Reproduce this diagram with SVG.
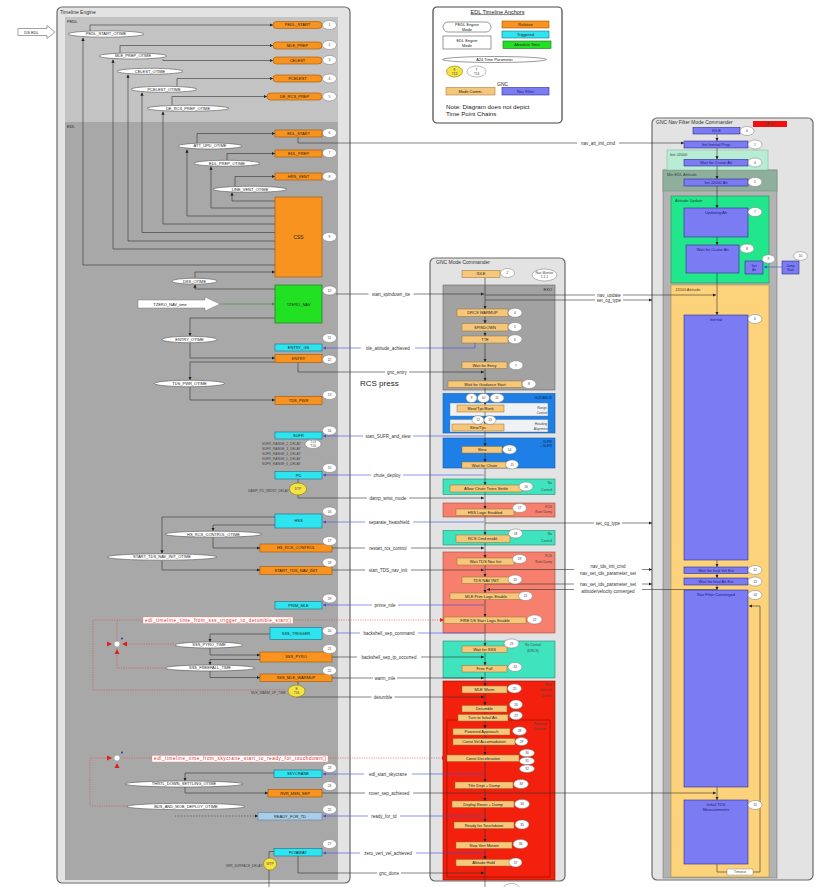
<svg xmlns="http://www.w3.org/2000/svg" width="816" height="887" viewBox="0 0 816 887">
<defs>
<style>
text{font-family:"Liberation Sans",Arial,sans-serif;fill:#222}
.pn{fill:#e3e3e3;stroke:#6a6a6a;stroke-width:1.2}
.ti{font-size:5px;fill:#333}
.t{font-size:4.8px}
.s{font-size:4px}
.xs{font-size:3.3px;fill:#444}
.lbl{font-size:4.5px;fill:#333}
.o{fill:#f7931e;stroke:#a35400;stroke-width:.6}
.c{fill:#2ee4ef;stroke:#1b6e88;stroke-width:.6}
.g{fill:#22e022;stroke:#1a6a1a;stroke-width:.6}
.e{fill:#fff;stroke:#555;stroke-width:.6}
.ci{fill:#fff;stroke:#777;stroke-width:.5}
.y{fill:#f4e340;stroke:#8a7a00;stroke-width:.6}
.m{fill:#f6c77a;stroke:#96702e;stroke-width:.5}
.n{fill:#7b7bf3;stroke:#2e2e8c;stroke-width:.6}
.nt{fill:#1c1c7a}
.k{fill:none;stroke:#333;stroke-width:.6}
.b{fill:none;stroke:#3d4ee0;stroke-width:.6}
.r{fill:none;stroke:#e04848;stroke-width:.6;stroke-dasharray:1.2 1.2}
.wb{fill:#fff}
.rt{font-size:4.6px;fill:#e02020}
</style>
<marker id="ak" viewBox="0 0 6 6" refX="6" refY="3" markerUnits="userSpaceOnUse" markerWidth="3.2" markerHeight="3.2" orient="auto"><path d="M0,0L6,3L0,6z" fill="#222"/></marker>
<marker id="ab" viewBox="0 0 6 6" refX="6" refY="3" markerUnits="userSpaceOnUse" markerWidth="3.2" markerHeight="3.2" orient="auto"><path d="M0,0L6,3L0,6z" fill="#3d4ee0"/></marker>
<marker id="ar" viewBox="0 0 6 6" refX="6" refY="3" markerUnits="userSpaceOnUse" markerWidth="4" markerHeight="4" orient="auto"><path d="M0,0L6,3L0,6z" fill="#e02020"/></marker>
<marker id="ag" viewBox="0 0 6 6" refX="6" refY="3" markerUnits="userSpaceOnUse" markerWidth="3.2" markerHeight="3.2" orient="auto"><path d="M0,0L6,3L0,6z" fill="#2a9a2a"/></marker>
</defs>
<rect width="816" height="887" fill="#fff"/>

<!-- Panels -->
<g id="timeline-engine">
<rect class="pn" x="57" y="7" width="293" height="876" rx="5"/>
<text class="ti" x="60" y="13.5">Timeline Engine</text>
<rect x="65" y="17" width="273" height="105" fill="#c3c3c3"/>
<text class="s" x="67" y="22.5">PEDL</text>
<rect x="65" y="122" width="273" height="758" fill="#a8a8a8"/>
<text class="s" x="67" y="127.5">EDL</text>
</g>

<g id="gnc-mode-commander">
<rect class="pn" x="430" y="258" width="135" height="623" rx="5"/>
<text class="ti" x="436" y="263.5">GNC Mode Commander</text>
<rect x="443" y="285" width="112" height="105" fill="#a2a2a2" stroke="#666" stroke-width=".6"/>
<text class="s" x="552" y="290.5" text-anchor="end">EXO</text>
<rect x="443" y="393.5" width="112" height="39.5" fill="#1e80e6" stroke="#1458a0" stroke-width=".6"/>
<text class="xs" x="552" y="398.5" text-anchor="end" style="fill:#0a2a60">GUIDANCE</text>
<rect x="450" y="403" width="98" height="13" fill="#eef2f6" stroke="#5a7aa0" stroke-width=".4"/>
<text class="xs" x="542" y="408.5" text-anchor="middle">Range</text>
<text class="xs" x="542" y="414" text-anchor="middle">Control</text>
<rect x="450" y="419.5" width="98" height="12.5" fill="#eef2f6" stroke="#5a7aa0" stroke-width=".4"/>
<text class="xs" x="541" y="424.5" text-anchor="middle">Heading</text>
<text class="xs" x="541" y="430" text-anchor="middle">Alignment</text>
<rect x="443" y="438" width="112" height="30" fill="#1e80e6" stroke="#1458a0" stroke-width=".6"/>
<text class="xs" x="552" y="443" text-anchor="end" style="fill:#0a2a60">SUFR</text>
<text class="xs" x="552" y="447" text-anchor="end" style="fill:#0a2a60">+ SLEW</text>
<rect x="443" y="479" width="112" height="15.5" fill="#3fe3be" stroke="#2a8a70" stroke-width=".6"/>
<text class="xs" x="552" y="484" text-anchor="end">No</text>
<text class="xs" x="552" y="491" text-anchor="end">Control</text>
<rect x="443" y="503" width="112" height="14" fill="#f77f6d" stroke="#a04a3a" stroke-width=".6"/>
<text class="xs" x="552" y="507.5" text-anchor="end">RCS</text>
<text class="xs" x="552" y="513" text-anchor="end">Rate Damp</text>
<rect x="443" y="530.5" width="112" height="14.5" fill="#3fe3be" stroke="#2a8a70" stroke-width=".6"/>
<text class="xs" x="552" y="535" text-anchor="end">No</text>
<text class="xs" x="552" y="542" text-anchor="end">Control</text>
<rect x="443" y="552" width="112" height="81" fill="#f77f6d" stroke="#a04a3a" stroke-width=".6"/>
<text class="xs" x="552" y="557" text-anchor="end">RCS</text>
<text class="xs" x="552" y="562.5" text-anchor="end">Rate Damp</text>
<rect x="443" y="641" width="112" height="37" fill="#3fe3be" stroke="#2a8a70" stroke-width=".6"/>
<text class="xs" x="533" y="646" text-anchor="middle">No Control</text>
<text class="xs" x="533" y="652" text-anchor="middle">(DRCS)</text>
<rect x="443" y="681" width="112" height="199" fill="#f2200c" stroke="#901000" stroke-width=".6"/>
<text class="xs" x="552" y="685.5" text-anchor="end">MLE</text>
<text class="xs" x="552" y="691" text-anchor="end">Descent</text>
<text class="xs" x="552" y="696.5" text-anchor="end">Control</text>
<rect x="447" y="720" width="103" height="157" fill="#f2200c" stroke="#a01000" stroke-width=".7"/>
<text class="xs" x="540" y="725" text-anchor="middle">Powered</text>
<text class="xs" x="540" y="730" text-anchor="middle">Descent</text>
</g>

<g id="nav-filter-mode-commander">
<rect class="pn" x="652" y="118" width="161" height="762" rx="5"/>
<text class="ti" x="656" y="123.5">GNC Nav Filter Mode Commander</text>
<rect x="753" y="121" width="34" height="6" fill="#f01010"/>
<text class="xs" x="770" y="125.4" text-anchor="middle">FAULT</text>
<rect x="663" y="170" width="114" height="708" fill="#b3b3b3" stroke="#777" stroke-width=".6"/>
<rect x="663" y="170" width="114" height="21" fill="#8fae9c" stroke="#6a8a78" stroke-width=".5"/>
<rect x="667" y="150" width="101" height="20" fill="#b9ecd4" stroke="#7ab09a" stroke-width=".5"/>
<text class="s" x="670" y="155.5" style="fill:#2a4a3a">Init J2000</text>
<text class="s" x="667" y="175.5" style="fill:#2a4a3a">Min EDL Attitude</text>
<rect x="671" y="196" width="98" height="87" fill="#22e68c" stroke="#2a8a5a" stroke-width=".6"/>
<text class="s" x="675" y="201.5" style="fill:#1a4a30">Attitude Update</text>
<rect x="671" y="285" width="98" height="592" fill="#fcd27a" stroke="#b09040" stroke-width=".6"/>
<text class="s" x="675" y="291" style="fill:#5a4010">J2000 Attitude</text>
</g>

<g id="legend">
<rect x="433" y="7" width="129" height="116" rx="4" fill="#fff" stroke="#444" stroke-width="1.2"/>
<text x="497.5" y="13.5" font-size="5.5" text-anchor="middle" text-decoration="underline">EDL Timeline Anchors</text>
<rect x="443" y="22" width="48" height="10" rx="5" fill="#fff" stroke="#555" stroke-width=".6"/>
<text class="s" x="467" y="26.3" text-anchor="middle">PEDL Engine</text>
<text class="s" x="467" y="31" text-anchor="middle">Mode</text>
<rect x="443" y="36" width="48" height="13" fill="#fff" stroke="#555" stroke-width=".6"/>
<text class="s" x="467" y="41.5" text-anchor="middle">EDL Engine</text>
<text class="s" x="467" y="47" text-anchor="middle">Mode</text>
<rect class="o" x="502" y="21" width="47" height="7"/>
<text class="s" x="525.5" y="26" text-anchor="middle">Relative</text>
<rect class="c" x="502" y="31" width="47" height="7"/>
<text class="s" x="525.5" y="36" text-anchor="middle">Triggered</text>
<rect class="g" x="503" y="41" width="48" height="7.5"/>
<text class="s" x="527" y="46.3" text-anchor="middle">Absolute Time</text>
<ellipse class="e" cx="494.5" cy="59.5" rx="52" ry="3"/>
<text class="s" x="494.5" y="61" text-anchor="middle">A24 Time Parameter</text>
<ellipse class="y" cx="454.5" cy="71.5" rx="8" ry="5.5"/>
<text class="xs" x="454.5" y="70.5" text-anchor="middle">8</text>
<text class="xs" x="454.5" y="74.5" text-anchor="middle">T13</text>
<ellipse class="ci" cx="476.5" cy="71.5" rx="9.5" ry="5.5"/>
<text class="xs" x="476.5" y="70.5" text-anchor="middle">T</text>
<text class="xs" x="476.5" y="74.5" text-anchor="middle">T14</text>
<text x="497" y="85.5" font-size="5">GNC</text>
<rect class="m" x="446" y="87.5" width="49" height="7.5"/>
<text class="s" x="470.5" y="92.6" text-anchor="middle">Mode Comm.</text>
<rect class="n" x="502" y="87.5" width="47" height="7.5"/>
<text class="s nt" x="525.5" y="92.6" text-anchor="middle">Nav Filter</text>
<text x="446" y="108.5" font-size="6.2">Note: Diagram does not depict</text>
<text x="446" y="116" font-size="6.2">Time Point Chains</text>
</g>

<!-- Connectors -->
<g id="connectors">
<!-- timeline internal -->
<path class="k" d="M275,265H83V37.8" marker-end="url(#ak)"/>
<path class="k" d="M275,249H113V59.5" marker-end="url(#ak)"/>
<path class="k" d="M275,241H128V74.5" marker-end="url(#ak)"/>
<path class="k" d="M275,232.5H142V92.5" marker-end="url(#ak)"/>
<path class="k" d="M275,224H163V111.5" marker-end="url(#ak)"/>
<path class="k" d="M275,216H187V149.5" marker-end="url(#ak)"/>
<path class="k" d="M275,208H211V166.5" marker-end="url(#ak)"/>
<path class="k" d="M275,201H232V192.5" marker-end="url(#ak)"/>
<path class="k" d="M90,31V25H273" marker-end="url(#ak)"/>
<path class="k" d="M120,53V45.5H273" marker-end="url(#ak)"/>
<path class="k" d="M163,59V60.5H273" marker-end="url(#ak)"/>
<path class="k" d="M177,86V78.5H273" marker-end="url(#ak)"/>
<path class="k" d="M172,105V96.5H267" marker-end="url(#ak)"/>
<path class="k" d="M197,143V133.5H275" marker-end="url(#ak)"/>
<path class="k" d="M227,160V153.5H275" marker-end="url(#ak)"/>
<path class="k" d="M235,186V176.5H275" marker-end="url(#ak)"/>
<path class="k" d="M195,278V272H275" marker-end="url(#ak)"/>
<path class="k" d="M275,289H195V284.5" marker-end="url(#ak)"/>
<path fill="none" stroke="#2a9a2a" stroke-width=".6" d="M220,304H275" marker-end="url(#ag)"/>
<path class="k" d="M275,318H190V336" marker-end="url(#ak)"/>
<path class="k" d="M190,343V358H275" marker-end="url(#ak)"/>
<path class="k" d="M275,362H190V380" marker-end="url(#ak)"/>
<path class="k" d="M190,387V400H275" marker-end="url(#ak)"/>
<path class="k" d="M298,479V483"/>
<path class="k" d="M275,517H162V553.5" marker-end="url(#ak)"/>
<path class="k" d="M162,560.5V570H260" marker-end="url(#ak)"/>
<path class="k" d="M275,525H213V531" marker-end="url(#ak)"/>
<path class="k" d="M213,537V548H260" marker-end="url(#ak)"/>
<path class="k" d="M270,634H210V642" marker-end="url(#ak)"/>
<path class="k" d="M210,648V655H260" marker-end="url(#ak)"/>
<path class="k" d="M260,659.5H210V665" marker-end="url(#ak)"/>
<path class="k" d="M210,671V677.5H260" marker-end="url(#ak)"/>
<path class="k" d="M298,681.5V685"/>
<path class="k" d="M274,773H185V781" marker-end="url(#ak)"/>
<path class="k" d="M185,787V793H268" marker-end="url(#ak)"/>
<path fill="none" stroke="#555" stroke-width=".7" stroke-dasharray="1.5 1.5" d="M175,816H258" marker-end="url(#ak)"/>
<path class="k" d="M274,851.5H269V858"/>
<path class="k" d="M269,870V887"/>
<!-- red dotted loops -->
<path class="r" d="M285,690H93V620H143"/>
<path class="r" d="M117,641V620"/>
<path class="r" d="M127,644H175"/>
<path class="r" d="M117,648V668H165"/>
<path class="r" d="M293,620H444" marker-end="url(#ar)"/>
<path class="r" d="M112,758H90V806H127"/>
<path class="r" d="M122,758H152"/>
<path class="r" d="M328,758H446" marker-end="url(#ar)"/>
<!-- timeline to mode commander (black) -->
<path class="k" d="M298,137V143H684" marker-end="url(#ak)"/>
<path class="k" d="M336,294H484" marker-end="url(#ak)"/>
<path class="k" d="M298,362.5V372H484" marker-end="url(#ak)"/>
<path class="k" d="M298,495V498H484" marker-end="url(#ak)"/>
<path class="k" d="M332,548H484" marker-end="url(#ak)"/>
<path class="k" d="M332,570H484" marker-end="url(#ak)"/>
<path class="k" d="M332,657H484" marker-end="url(#ak)"/>
<path class="k" d="M332,678H484" marker-end="url(#ak)"/>
<path class="k" d="M296.5,697H484" marker-end="url(#ak)"/>
<path class="k" d="M322,793H716" marker-end="url(#ak)"/>
<path class="k" d="M298,856V873H484" marker-end="url(#ak)"/>
<!-- mode commander to timeline (blue) -->
<path class="b" d="M475,343V348H323" marker-end="url(#ab)"/>
<path class="b" d="M484,436H323" marker-end="url(#ab)"/>
<path class="b" d="M484,475H323" marker-end="url(#ab)"/>
<path class="b" d="M484,522H323" marker-end="url(#ab)"/>
<path class="b" d="M484,605H323" marker-end="url(#ab)"/>
<path class="b" d="M484,633H323" marker-end="url(#ab)"/>
<path class="b" d="M484,774H323" marker-end="url(#ab)"/>
<path class="b" d="M484,816H323" marker-end="url(#ab)"/>
<path class="b" d="M484,853H323" marker-end="url(#ab)"/>
<!-- mode commander to nav filter -->
<path class="k" d="M485,295H716" marker-end="url(#ak)"/>
<path class="k" d="M485,300H652" marker-end="url(#ak)"/>
<path class="k" d="M485,523H652" marker-end="url(#ak)"/>
<path class="k" d="M485,569.5H652" marker-end="url(#ak)"/>
<path class="k" d="M485,584H652" marker-end="url(#ak)"/>
<path class="k" d="M717,589.5H487" marker-end="url(#ak)"/>
<!-- mode commander main flow -->
<path class="k" d="M485,277.5V309" marker-end="url(#ak)"/>
<path class="k" d="M485,316.5V323.5" marker-end="url(#ak)"/>
<path class="k" d="M485,331V336" marker-end="url(#ak)"/>
<path class="k" d="M485,343V362" marker-end="url(#ak)"/>
<path class="k" d="M485,368.5V381" marker-end="url(#ak)"/>
<path class="k" d="M485,387.5V405" marker-end="url(#ak)"/>
<path class="k" d="M485,412V424" marker-end="url(#ak)"/>
<path class="k" d="M485,431V446.5" marker-end="url(#ak)"/>
<path class="k" d="M485,453V462" marker-end="url(#ak)"/>
<path class="k" d="M485,468V485" marker-end="url(#ak)"/>
<path class="k" d="M485,492V509" marker-end="url(#ak)"/>
<path class="k" d="M485,515.5V535" marker-end="url(#ak)"/>
<path class="k" d="M485,542.5V558" marker-end="url(#ak)"/>
<path class="k" d="M485,565V577" marker-end="url(#ak)"/>
<path class="k" d="M485,583.5V593" marker-end="url(#ak)"/>
<path class="k" d="M485,599.5V617" marker-end="url(#ak)"/>
<path class="k" d="M485,623.5V646" marker-end="url(#ak)"/>
<path class="k" d="M485,652.5V665.5" marker-end="url(#ak)"/>
<path class="k" d="M485,672V686" marker-end="url(#ak)"/>
<path class="k" d="M485,693V705.5" marker-end="url(#ak)"/>
<path class="k" d="M485,712V714.5"/>
<path class="k" d="M485,721V728.5" marker-end="url(#ak)"/>
<path class="k" d="M485,735V738.5"/>
<path class="k" d="M485,745V755" marker-end="url(#ak)"/>
<path class="k" d="M485,761.5V782" marker-end="url(#ak)"/>
<path class="k" d="M485,788.5V801" marker-end="url(#ak)"/>
<path class="k" d="M485,807.5V822" marker-end="url(#ak)"/>
<path class="k" d="M485,828.5V842" marker-end="url(#ak)"/>
<path class="k" d="M485,848.5V859.5" marker-end="url(#ak)"/>
<path class="k" d="M485,866V887"/>
<!-- nav filter flow -->
<path class="k" d="M717,134V141" marker-end="url(#ak)"/>
<path class="k" d="M717,148V159.5" marker-end="url(#ak)"/>
<path class="k" d="M717,166V179" marker-end="url(#ak)"/>
<path class="k" d="M717,186V208" marker-end="url(#ak)"/>
<path class="k" d="M717,237V245" marker-end="url(#ak)"/>
<path class="k" d="M717,273V315" marker-end="url(#ak)"/>
<path class="k" d="M717,560V567" marker-end="url(#ak)"/>
<path class="k" d="M717,573.5V578" marker-end="url(#ak)"/>
<path class="k" d="M717,585V590" marker-end="url(#ak)"/>
<path class="k" d="M717,787V800" marker-end="url(#ak)"/>
<path class="k" d="M717,864V872H760V606H749" marker-end="url(#ak)"/>
<path class="b" d="M782,267H764" marker-end="url(#ab)"/>
<!-- labels -->
<rect class="wb" x="368.5" y="291.5" width="45" height="5"/><text class="lbl" x="391" y="295.6" text-anchor="middle">start_spindown_tte</text>
<rect class="wb" x="361" y="345.5" width="54" height="5"/><text class="lbl" x="388" y="349.6" text-anchor="middle">ttle_attitude_achieved</text>
<rect class="wb" x="385" y="369.5" width="24" height="5"/><text class="lbl" x="397" y="373.6" text-anchor="middle">gnc_entry</text>
<text x="360" y="385.5" font-size="8" fill="#333">RCS press</text>
<rect class="wb" x="363" y="433.5" width="50" height="5"/><text class="lbl" x="388" y="437.6" text-anchor="middle">start_SUFR_and_slew</text>
<rect class="wb" x="371" y="472.5" width="32" height="5"/><text class="lbl" x="387" y="476.6" text-anchor="middle">chute_deploy</text>
<rect class="wb" x="367" y="495.5" width="42" height="5"/><text class="lbl" x="388" y="499.6" text-anchor="middle">damp_wrist_mode</text>
<rect class="wb" x="365" y="519.5" width="48" height="5"/><text class="lbl" x="389" y="523.6" text-anchor="middle">separate_heatshield</text>
<rect class="wb" x="365" y="545.5" width="46" height="5"/><text class="lbl" x="388" y="549.6" text-anchor="middle">restart_rcs_control</text>
<rect class="wb" x="365" y="567.5" width="46" height="5"/><text class="lbl" x="388" y="571.6" text-anchor="middle">start_TDS_nav_init</text>
<rect class="wb" x="372" y="602.5" width="26" height="5"/><text class="lbl" x="385" y="606.6" text-anchor="middle">prime_mle</text>
<rect class="wb" x="360" y="630.5" width="58" height="5"/><text class="lbl" x="389" y="634.6" text-anchor="middle">backshell_sep_command</text>
<rect class="wb" x="357" y="654.5" width="64" height="5"/><text class="lbl" x="389" y="658.6" text-anchor="middle">backshell_sep_tp_occurred</text>
<rect class="wb" x="373" y="675.5" width="24" height="5"/><text class="lbl" x="385" y="679.6" text-anchor="middle">warm_mle</text>
<rect class="wb" x="371.5" y="694.5" width="23" height="5"/><text class="lbl" x="383" y="698.6" text-anchor="middle">detumble</text>
<rect class="wb" x="364" y="771.5" width="48" height="5"/><text class="lbl" x="388" y="775.6" text-anchor="middle">edl_start_skycrane</text>
<rect class="wb" x="365" y="790.5" width="48" height="5"/><text class="lbl" x="389" y="794.6" text-anchor="middle">rover_sep_achieved</text>
<rect class="wb" x="368" y="813.5" width="32" height="5"/><text class="lbl" x="384" y="817.6" text-anchor="middle">ready_for_td</text>
<rect class="wb" x="360" y="850.5" width="56" height="5"/><text class="lbl" x="388" y="854.6" text-anchor="middle">zero_vert_vel_achieved</text>
<rect class="wb" x="377" y="870.5" width="24" height="5"/><text class="lbl" x="389" y="874.6" text-anchor="middle">gnc_done</text>
<rect class="wb" x="577" y="140.5" width="42" height="5"/><text class="lbl" x="598" y="144.6" text-anchor="middle">nav_att_init_cmd</text>
<rect class="wb" x="595" y="292.7" width="28" height="4.6"/><text class="lbl" x="609" y="296.6" text-anchor="middle">nav_update</text>
<rect class="wb" x="595" y="297.7" width="28" height="4.6"/><text class="lbl" x="609" y="301.6" text-anchor="middle">set_cg_type</text>
<rect class="wb" x="594" y="520.5" width="28" height="5"/><text class="lbl" x="608" y="524.6" text-anchor="middle">set_cg_type</text>
<rect class="wb" x="574" y="563.5" width="68" height="13"/>
<text class="lbl" x="608" y="567.5" text-anchor="middle">nav_tds_init_cmd</text>
<text class="lbl" x="608" y="575" text-anchor="middle">nav_set_tds_parameter_set</text>
<rect class="wb" x="574" y="581.2" width="68" height="12.5"/>
<text class="lbl" x="608" y="585.5" text-anchor="middle">nav_set_tds_parameter_set</text>
<text class="lbl" x="608" y="592.5" text-anchor="middle">attitude/velocity converged</text>
<rect x="727" y="869" width="26" height="6" fill="#fff" stroke="#777" stroke-width=".4"/>
<text class="xs" x="740" y="873.3" text-anchor="middle">Timeout</text>
</g>

<!-- Timeline nodes -->
<g id="ds-edl"><polygon points="18,28.5 47,28.5 47,25.5 55,32 47,38.5 47,35.5 18,35.5" fill="#fff" stroke="#666" stroke-width=".6"/><text class="s" x="31.5" y="33.5" text-anchor="middle">DS EDL</text></g>
<g id="pedl-start-otime"><ellipse class="e" cx="106" cy="34" rx="38" ry="3.2"/><text class="s" x="106" y="35.4" text-anchor="middle">PEDL_START_OTIME</text></g>
<g id="mle-prep-otime"><ellipse class="e" cx="133" cy="56" rx="34" ry="3"/><text class="s" x="133" y="57.4" text-anchor="middle">MLE_PREP_OTIME</text></g>
<g id="celest-otime"><ellipse class="e" cx="150" cy="71.3" rx="33" ry="3"/><text class="s" x="150" y="72.7" text-anchor="middle">CELEST_OTIME</text></g>
<g id="pcelest-otime"><ellipse class="e" cx="164" cy="89.3" rx="33" ry="3"/><text class="s" x="164" y="90.7" text-anchor="middle">PCELEST_OTIME</text></g>
<g id="de-rcs-prep-otime"><ellipse class="e" cx="188" cy="108.3" rx="41" ry="3"/><text class="s" x="188" y="109.7" text-anchor="middle">DE_RCS_PREP_OTIME</text></g>
<g id="pedl-start"><rect class="o" x="273" y="21.5" width="49" height="7" rx="3.5"/><text class="s" x="297.5" y="26.4" text-anchor="middle">PEDL_START</text><ellipse class="ci" cx="329.5" cy="25" rx="7" ry="4.5"/><text class="xs" x="329.5" y="26.2" text-anchor="middle">1</text></g>
<g id="mle-prep"><rect class="o" x="273" y="42" width="49" height="7" rx="3.5"/><text class="s" x="297.5" y="46.9" text-anchor="middle">MLE_PREP</text><ellipse class="ci" cx="329.5" cy="45" rx="7" ry="4.5"/><text class="xs" x="329.5" y="46.2" text-anchor="middle">2</text></g>
<g id="celest"><rect class="o" x="273" y="57" width="49" height="7" rx="3.5"/><text class="s" x="297.5" y="61.9" text-anchor="middle">CELEST</text><ellipse class="ci" cx="329.5" cy="60" rx="7" ry="4.5"/><text class="xs" x="329.5" y="61.2" text-anchor="middle">3</text></g>
<g id="pcelest"><rect class="o" x="273" y="75" width="49" height="7" rx="3.5"/><text class="s" x="297.5" y="79.9" text-anchor="middle">PCELEST</text><ellipse class="ci" cx="329.5" cy="78.5" rx="7" ry="4.5"/><text class="xs" x="329.5" y="79.7" text-anchor="middle">4</text></g>
<g id="de-rcs-prep"><rect class="o" x="267" y="93" width="55" height="7" rx="3.5"/><text class="s" x="294.5" y="97.9" text-anchor="middle">DE_RCS_PREP</text><ellipse class="ci" cx="329.5" cy="96.5" rx="7" ry="4.5"/><text class="xs" x="329.5" y="97.7" text-anchor="middle">5</text></g>
<g id="edl-start"><rect class="o" x="275" y="130" width="47" height="7"/><text class="s" x="298.5" y="134.9" text-anchor="middle">EDL_START</text><ellipse class="ci" cx="329.5" cy="133" rx="7" ry="4.5"/><text class="xs" x="329.5" y="134.2" text-anchor="middle">6</text></g>
<g id="att-upd-otime"><ellipse class="e" cx="210" cy="146" rx="32" ry="3"/><text class="s" x="210" y="147.4" text-anchor="middle">ATT_UPD_OTIME</text></g>
<g id="edl-prep"><rect class="o" x="275" y="150" width="47" height="7"/><text class="s" x="298.5" y="154.9" text-anchor="middle">EDL_PREP</text><ellipse class="ci" cx="329.5" cy="153" rx="7" ry="4.5"/><text class="xs" x="329.5" y="154.2" text-anchor="middle">7</text></g>
<g id="edl-prep-otime"><ellipse class="e" cx="227" cy="163.3" rx="33" ry="3"/><text class="s" x="227" y="164.7" text-anchor="middle">EDL_PREP_OTIME</text></g>
<g id="hrs-vent"><rect class="o" x="275" y="173" width="47" height="7"/><text class="s" x="298.5" y="177.9" text-anchor="middle">HRS_VENT</text><ellipse class="ci" cx="329.5" cy="176.5" rx="7" ry="4.5"/><text class="xs" x="329.5" y="177.7" text-anchor="middle">8</text></g>
<g id="line-vent-otime"><ellipse class="e" cx="250" cy="189.3" rx="37" ry="3"/><text class="s" x="250" y="190.7" text-anchor="middle">LINE_VENT_OTIME</text></g>
<g id="css"><rect class="o" x="275" y="197" width="47" height="80"/><text class="t" x="298.5" y="238.5" text-anchor="middle">CSS</text><ellipse class="ci" cx="329.5" cy="237" rx="7" ry="4.5"/><text class="xs" x="329.5" y="238.2" text-anchor="middle">9</text></g>
<g id="dss-otime"><ellipse class="e" cx="194.5" cy="281.2" rx="22.5" ry="3"/><text class="s" x="194.5" y="282.6" text-anchor="middle">DSS_OTIME</text></g>
<g id="tzero-nav"><rect class="g" x="275" y="285" width="47" height="38"/><text class="s" x="298.5" y="305.5" text-anchor="middle">TZERO_NAV</text><ellipse class="ci" cx="329.5" cy="290.5" rx="7" ry="4.5"/><text class="xs" x="329.5" y="291.7" text-anchor="middle">10</text></g>
<g id="tzero-nav-time"><polygon points="138,300 205,300 205,297 220,304 205,311 205,308 138,308" fill="#fff" stroke="#777" stroke-width=".5"/><text class="s" x="170" y="305.5" text-anchor="middle">TZERO_NAV_time</text></g>
<g id="entry-otime"><ellipse class="e" cx="189.5" cy="339.5" rx="27.5" ry="3.2"/><text class="s" x="189.5" y="340.9" text-anchor="middle">ENTRY_OTIME</text></g>
<g id="entry-gs"><rect class="c" x="275" y="344" width="47" height="7"/><text class="s" x="298.5" y="348.9" text-anchor="middle">ENTRY_GS</text><ellipse class="ci" cx="329.5" cy="338" rx="7" ry="4.5"/><text class="xs" x="329.5" y="339.2" text-anchor="middle">11</text></g>
<g id="entry"><rect class="o" x="275" y="354.5" width="47" height="8"/><text class="s" x="298.5" y="359.9" text-anchor="middle">ENTRY</text><ellipse class="ci" cx="329.5" cy="359.5" rx="7" ry="4.5"/><text class="xs" x="329.5" y="360.7" text-anchor="middle">12</text></g>
<g id="tds-pwr-otime"><ellipse class="e" cx="189.5" cy="383.5" rx="35" ry="3.2"/><text class="s" x="189.5" y="384.9" text-anchor="middle">TDS_PWR_OTIME</text></g>
<g id="tds-pwr"><rect class="o" x="275" y="396.5" width="47" height="8"/><text class="s" x="298.5" y="401.9" text-anchor="middle">TDS_PWR</text><ellipse class="ci" cx="329.5" cy="395" rx="7" ry="4.5"/><text class="xs" x="329.5" y="396.2" text-anchor="middle">13</text></g>
<g id="sufr"><rect class="c" x="275" y="432" width="47" height="7"/><text class="s" x="298.5" y="436.9" text-anchor="middle">SUFR</text><ellipse class="ci" cx="329.5" cy="430.5" rx="7" ry="4.5"/><text class="xs" x="329.5" y="431.7" text-anchor="middle">14</text>
<ellipse class="ci" cx="313" cy="444" rx="8" ry="4.5"/><text class="xs" x="313" y="443.3" text-anchor="middle">T13</text><text class="xs" x="313" y="446.8" text-anchor="middle">T14</text>
<text class="xs" x="262" y="445">SUFR_RANGE_2_DELAY</text><text class="xs" x="262" y="450">SUFR_RANGE_3_DELAY</text><text class="xs" x="262" y="455">SUFR_RANGE_4_DELAY</text><text class="xs" x="262" y="460">SUFR_RANGE_5_DELAY</text><text class="xs" x="262" y="465">SUFR_RANGE_6_DELAY</text></g>
<g id="pd"><rect class="c" x="275" y="471.5" width="47" height="7.5"/><text class="s" x="298.5" y="476.6" text-anchor="middle">PD</text><ellipse class="ci" cx="329.5" cy="468" rx="7" ry="4.5"/><text class="xs" x="329.5" y="469.2" text-anchor="middle">15</text>
<ellipse class="y" cx="298" cy="489" rx="8.5" ry="6"/><text class="xs" x="298" y="490.2" text-anchor="middle">DTP</text><text class="xs" x="289" y="491.5" text-anchor="end">DAMP_PD_WRIST_DELAY</text></g>
<g id="hss"><rect class="c" x="275" y="514" width="47" height="14"/><text class="s" x="298.5" y="522.4" text-anchor="middle">HSS</text><ellipse class="ci" cx="329.5" cy="511.5" rx="7" ry="4.5"/><text class="xs" x="329.5" y="512.7" text-anchor="middle">16</text></g>
<g id="hs-rcs-control-otime"><ellipse class="e" cx="213.5" cy="534.2" rx="48.5" ry="3"/><text class="s" x="213.5" y="535.6" text-anchor="middle">HS_RCS_CONTROL_OTIME</text></g>
<g id="hs-rcs-control"><rect class="o" x="260" y="544" width="72" height="8"/><text class="s" x="296" y="549.4" text-anchor="middle">HS_RCS_CONTROL</text><ellipse class="ci" cx="329.5" cy="541" rx="7" ry="4.5"/><text class="xs" x="329.5" y="542.2" text-anchor="middle">17</text></g>
<g id="start-tds-nav-init-otime"><ellipse class="e" cx="162" cy="557" rx="55" ry="3.2"/><text class="s" x="162" y="558.4" text-anchor="middle">START_TDS_NAV_INIT_OTIME</text></g>
<g id="start-tds-nav-init"><rect class="o" x="260" y="566.5" width="72" height="8"/><text class="s" x="296" y="571.9" text-anchor="middle">START_TDS_NAV_INIT</text><ellipse class="ci" cx="329.5" cy="562.5" rx="7" ry="4.5"/><text class="xs" x="329.5" y="563.7" text-anchor="middle">18</text></g>
<g id="prim-mle"><rect class="c" x="275" y="601.5" width="47" height="7.5"/><text class="s" x="298.5" y="606.6" text-anchor="middle">PRIM_MLE</text><ellipse class="ci" cx="329.5" cy="598.5" rx="7" ry="4.5"/><text class="xs" x="329.5" y="599.7" text-anchor="middle">19</text></g>
<g id="sss-loop"><rect x="143" y="617" width="150" height="6.5" fill="#fff" stroke="#e08080" stroke-width=".4"/><text class="rt" x="218" y="621.9" text-anchor="middle" textLength="146">edl_timeline_time_from_sss_trigger_to_detumble_start()</text>
<circle cx="117" cy="644" r="3" fill="#fff" stroke="#888" stroke-width=".5"/><circle cx="122" cy="638.5" r="1" fill="#2a3a9a"/>
<path d="M107,641.5L112,644L107,646.5z M127,641.5L122,644L127,646.5z M114.5,654L117,649L119.5,654z" fill="#e02020"/></g>
<g id="sss-trigger"><rect class="c" x="270" y="627.5" width="52" height="12"/><text class="s" x="296" y="635" text-anchor="middle">SSS_TRIGGER</text><ellipse class="ci" cx="329.5" cy="631" rx="7" ry="4.5"/><text class="xs" x="329.5" y="632.2" text-anchor="middle">20</text></g>
<g id="sss-pyro-time"><ellipse class="e" cx="209" cy="645" rx="34" ry="3"/><text class="s" x="209" y="646.4" text-anchor="middle">SSS_PYRO_TIME</text></g>
<g id="sss-pyro"><rect class="o" x="260" y="652" width="72" height="10"/><text class="s" x="296" y="658.4" text-anchor="middle">SSS_PYRO</text><ellipse class="ci" cx="329.5" cy="649" rx="7" ry="4.5"/><text class="xs" x="329.5" y="650.2" text-anchor="middle">21</text></g>
<g id="sss-freefall-time"><ellipse class="e" cx="210" cy="668" rx="45" ry="3"/><text class="s" x="210" y="669.4" text-anchor="middle">SSS_FREEFALL_TIME</text></g>
<g id="sss-mle-warmup"><rect class="o" x="260" y="674" width="72" height="7.5"/><text class="s" x="296" y="679.2" text-anchor="middle">SSS_MLE_WARMUP</text><ellipse class="ci" cx="329.5" cy="670.5" rx="7" ry="4.5"/><text class="xs" x="329.5" y="671.7" text-anchor="middle">22</text>
<ellipse class="y" cx="296.5" cy="691" rx="8.5" ry="6"/><text class="xs" x="296.5" y="690" text-anchor="middle">E</text><text class="xs" x="296.5" y="694" text-anchor="middle">T16</text><text class="xs" x="286" y="693.5" text-anchor="end">MLE_WARM_UP_TIME</text></g>
<g id="skycrane-loop"><rect x="152" y="755.5" width="176" height="6.5" fill="#fff" stroke="#e08080" stroke-width=".4"/><text class="rt" x="240" y="760.4" text-anchor="middle" textLength="172">edl_timeline_time_from_skycrane_start_to_ready_for_touchdown()</text>
<circle cx="117" cy="758" r="3" fill="#fff" stroke="#888" stroke-width=".5"/><circle cx="122" cy="752.5" r="1" fill="#2a3a9a"/>
<path d="M107,755.5L112,758L107,760.5z M114.5,768L117,763L119.5,768z" fill="#e02020"/></g>
<g id="skycrane"><rect class="c" x="274" y="770" width="48" height="7.5"/><text class="s" x="298" y="775.2" text-anchor="middle">SKYCRANE</text><ellipse class="ci" cx="329.5" cy="768" rx="7" ry="4.5"/><text class="xs" x="329.5" y="769.2" text-anchor="middle">23</text></g>
<g id="thrtl-down-settling-otime"><ellipse class="e" cx="184" cy="784" rx="59" ry="3"/><text class="s" x="184" y="785.4" text-anchor="middle">THRTL_DOWN_SETTLING_OTIME</text></g>
<g id="rvr-msn-sep"><rect class="o" x="268" y="789.5" width="54" height="7.5"/><text class="s" x="295" y="794.7" text-anchor="middle">RVR_MSN_SEP</text><ellipse class="ci" cx="329.5" cy="786" rx="7" ry="4.5"/><text class="xs" x="329.5" y="787.2" text-anchor="middle">24</text></g>
<g id="bus-and-mob-deploy-otime"><ellipse class="e" cx="186" cy="806.5" rx="59" ry="3.2"/><text class="s" x="186" y="807.9" text-anchor="middle">BUS_AND_MOB_DEPLOY_OTIME</text></g>
<g id="ready-for-td"><rect x="258" y="812.5" width="64" height="7.5" fill="#a9cde6" stroke="#5a7fa0" stroke-width=".6"/><text class="s" x="290" y="817.7" text-anchor="middle">READY_FOR_TD</text><ellipse class="ci" cx="329.5" cy="809.5" rx="7" ry="4.5"/><text class="xs" x="329.5" y="810.7" text-anchor="middle">25</text></g>
<g id="flyaway"><rect class="c" x="274" y="848.5" width="48" height="7.5"/><text class="s" x="298" y="853.7" text-anchor="middle">FLYAWAY</text><ellipse class="ci" cx="329.5" cy="844" rx="7" ry="4.5"/><text class="xs" x="329.5" y="845.2" text-anchor="middle">27</text>
<ellipse class="y" cx="270" cy="864" rx="6.5" ry="6"/><text class="xs" x="270" y="865.2" text-anchor="middle">WTP</text><text class="xs" x="262.5" y="866.5" text-anchor="end">SRR_SURFACE_DELAY</text></g>

<!-- Mode commander nodes -->
<g id="mc-idle"><rect class="m" x="462" y="270.5" width="38" height="7"/><text class="s" x="481" y="275.4" text-anchor="middle">IDLE</text><ellipse class="ci" cx="507.5" cy="273" rx="7" ry="4.5"/><text class="xs" x="507.5" y="274.2" text-anchor="middle">2</text>
<ellipse class="ci" cx="544.5" cy="275" rx="12.5" ry="6"/><text class="xs" x="544.5" y="274.2" text-anchor="middle">Nav Monitor</text><text class="xs" x="544.5" y="278.2" text-anchor="middle">1.1.1</text></g>
<g id="mc-drcs-warmup"><rect class="m" x="457" y="309" width="51" height="7.5"/><text class="s" x="482.5" y="314.2" text-anchor="middle">DRCS WARMUP</text><ellipse class="ci" cx="515" cy="312.7" rx="7" ry="4.5"/><text class="xs" x="515" y="313.9" text-anchor="middle">4</text></g>
<g id="mc-spindown"><rect class="m" x="462" y="323.5" width="46" height="7.5"/><text class="s" x="485" y="328.7" text-anchor="middle">SPINDOWN</text><ellipse class="ci" cx="515" cy="327" rx="7" ry="4.5"/><text class="xs" x="515" y="328.2" text-anchor="middle">5</text></g>
<g id="mc-tte"><rect class="m" x="462" y="336" width="46" height="7"/><text class="s" x="485" y="341" text-anchor="middle">TTE</text><ellipse class="ci" cx="515" cy="339.3" rx="7" ry="4.5"/><text class="xs" x="515" y="340.5" text-anchor="middle">6</text></g>
<g id="mc-wait-entry"><rect class="m" x="462" y="362" width="45" height="6.5"/><text class="s" x="484.5" y="366.7" text-anchor="middle">Wait for Entry</text><ellipse class="ci" cx="516" cy="365.3" rx="7" ry="4.5"/><text class="xs" x="516" y="366.5" text-anchor="middle">7</text></g>
<g id="mc-wait-guidance"><rect class="m" x="448" y="381" width="74" height="6.5"/><text class="s" x="485" y="385.7" text-anchor="middle">Wait for Guidance Start</text><ellipse class="ci" cx="529" cy="384" rx="7" ry="4.5"/><text class="xs" x="529" y="385.2" text-anchor="middle">8</text></g>
<g id="mc-slew-tpc-bank"><rect class="m" x="457" y="405" width="47" height="7"/><text class="s" x="480.5" y="409.9" text-anchor="middle">Slew/Tpc/Bank</text>
<ellipse class="ci" cx="471.5" cy="398" rx="5.5" ry="4.5"/><text class="xs" x="471.5" y="399.2" text-anchor="middle">9</text><ellipse class="ci" cx="483.5" cy="398" rx="6" ry="4.5"/><text class="xs" x="483.5" y="399.2" text-anchor="middle">10</text><ellipse class="ci" cx="497" cy="398" rx="7" ry="4.5"/><text class="xs" x="497" y="399.2" text-anchor="middle">11</text></g>
<g id="mc-slew-tpc"><rect class="m" x="452" y="424" width="52" height="7"/><text class="s" x="478" y="428.9" text-anchor="middle">Slew/Tpc</text>
<ellipse class="ci" cx="478" cy="420" rx="6" ry="4.3"/><text class="xs" x="478" y="421.2" text-anchor="middle">12</text><ellipse class="ci" cx="490" cy="420" rx="6" ry="4.3"/><text class="xs" x="490" y="421.2" text-anchor="middle">13</text></g>
<g id="mc-slew"><rect class="m" x="462" y="446.5" width="40" height="6.5"/><text class="s" x="482" y="451.2" text-anchor="middle">Slew</text><ellipse class="ci" cx="509.5" cy="449.5" rx="7" ry="4.5"/><text class="xs" x="509.5" y="450.7" text-anchor="middle">14</text></g>
<g id="mc-wait-chute"><rect class="m" x="462" y="462" width="45" height="6"/><text class="s" x="484.5" y="466.5" text-anchor="middle">Wait for Chute</text><ellipse class="ci" cx="512" cy="464.5" rx="6.5" ry="4.5"/><text class="xs" x="512" y="465.7" text-anchor="middle">15</text></g>
<g id="mc-allow-chute"><rect class="m" x="450" y="485" width="72" height="7"/><text class="s" x="486" y="489.9" text-anchor="middle">Allow Chute Trans Settle</text><ellipse class="ci" cx="526" cy="486.5" rx="7" ry="4.5"/><text class="xs" x="526" y="487.7" text-anchor="middle">16</text></g>
<g id="mc-hss-logic"><rect class="m" x="456" y="509" width="58" height="6.5"/><text class="s" x="485" y="513.7" text-anchor="middle">HSS Logic Enabled</text><ellipse class="ci" cx="519.5" cy="508" rx="7" ry="4.5"/><text class="xs" x="519.5" y="509.2" text-anchor="middle">17</text></g>
<g id="mc-rcs-cmd"><rect class="m" x="456" y="535" width="54" height="7.5"/><text class="s" x="483" y="540.2" text-anchor="middle">RCS Cmd enabl.</text><ellipse class="ci" cx="515.5" cy="533.5" rx="7" ry="4.5"/><text class="xs" x="515.5" y="534.7" text-anchor="middle">18</text></g>
<g id="mc-wait-tds"><rect class="m" x="457" y="558" width="57" height="7"/><text class="s" x="485.5" y="562.9" text-anchor="middle">Wait TDS Nav Init</text><ellipse class="ci" cx="519.5" cy="559" rx="7" ry="4.5"/><text class="xs" x="519.5" y="560.2" text-anchor="middle">19</text></g>
<g id="mc-tds-nav-init"><rect class="m" x="462" y="577" width="48" height="6.5"/><text class="s" x="486" y="581.7" text-anchor="middle">TDS NAV INIT</text><ellipse class="ci" cx="515" cy="579.5" rx="7" ry="4.5"/><text class="xs" x="515" y="580.7" text-anchor="middle">20</text></g>
<g id="mc-mle-prim"><rect class="m" x="450" y="593" width="72" height="6.5"/><text class="s" x="486" y="597.7" text-anchor="middle">MLE Prim Logic Enable</text><ellipse class="ci" cx="525.5" cy="596" rx="7" ry="4.5"/><text class="xs" x="525.5" y="597.2" text-anchor="middle">21</text></g>
<g id="mc-fire-ds"><rect class="m" x="444" y="617" width="82" height="6.5"/><text class="s" x="485" y="621.7" text-anchor="middle">FIRE DS Start Logic Enable</text><ellipse class="ci" cx="534.5" cy="619.5" rx="7.5" ry="4.5"/><text class="xs" x="534.5" y="620.7" text-anchor="middle">22</text></g>
<g id="mc-wait-sss"><rect class="m" x="462" y="646" width="45" height="6.5"/><text class="s" x="484.5" y="650.7" text-anchor="middle">Wait for SSS</text><ellipse class="ci" cx="511.5" cy="643.5" rx="7.5" ry="4.5"/><text class="xs" x="511.5" y="644.7" text-anchor="middle">23</text></g>
<g id="mc-free-fall"><rect class="m" x="462" y="665.5" width="45" height="6.5"/><text class="s" x="484.5" y="670.2" text-anchor="middle">Free Fall</text><ellipse class="ci" cx="515" cy="667" rx="7" ry="4.5"/><text class="xs" x="515" y="668.2" text-anchor="middle">24</text></g>
<g id="mc-mle-warm"><rect class="m" x="462" y="686" width="45" height="7"/><text class="s" x="484.5" y="690.9" text-anchor="middle">MLE Warm</text><ellipse class="ci" cx="514.5" cy="688.5" rx="7" ry="4.5"/><text class="xs" x="514.5" y="689.7" text-anchor="middle">25</text></g>
<g id="mc-detumble"><rect class="m" x="462" y="705.5" width="45" height="6.5"/><text class="s" x="484.5" y="710.2" text-anchor="middle">Detumble</text><ellipse class="ci" cx="516" cy="704.5" rx="6.5" ry="4.5"/><text class="xs" x="516" y="705.7" text-anchor="middle">26</text></g>
<g id="mc-turn"><rect class="m" x="458" y="714.5" width="50" height="6.5"/><text class="s" x="483" y="719.2" text-anchor="middle">Turn to Initial Att.</text><ellipse class="ci" cx="516" cy="715.5" rx="6.5" ry="4.2"/><text class="xs" x="516" y="716.7" text-anchor="middle">27</text></g>
<g id="mc-powered-approach"><rect class="m" x="453" y="728.5" width="57" height="6.5"/><text class="s" x="481.5" y="733.2" text-anchor="middle">Powered Approach</text><ellipse class="ci" cx="519.5" cy="731" rx="7" ry="4.2"/><text class="xs" x="519.5" y="732.2" text-anchor="middle">28</text></g>
<g id="mc-const-vel"><rect class="m" x="453" y="738.5" width="62" height="6.5"/><text class="s" x="484" y="743.2" text-anchor="middle">Const Vel Accomodation</text><ellipse class="ci" cx="521.5" cy="741.5" rx="6.5" ry="4"/><text class="xs" x="521.5" y="742.7" text-anchor="middle">29</text></g>
<g id="mc-const-decel"><rect class="m" x="447" y="755" width="72" height="6.5"/><text class="s" x="483" y="759.7" text-anchor="middle">Const Deceleration</text>
<ellipse class="ci" cx="527" cy="753" rx="7.5" ry="3.8"/><text class="xs" x="527" y="754.2" text-anchor="middle">30</text><ellipse class="ci" cx="527" cy="761" rx="7.5" ry="3.8"/><text class="xs" x="527" y="762.2" text-anchor="middle">31</text><ellipse class="ci" cx="527" cy="768.7" rx="7.5" ry="3.8"/><text class="xs" x="527" y="769.9" text-anchor="middle">32</text></g>
<g id="mc-tthr-dept"><rect class="m" x="455" y="782" width="58" height="6.5"/><text class="s" x="484" y="786.7" text-anchor="middle">Tthr Dept + Damp</text><ellipse class="ci" cx="521" cy="784" rx="7.5" ry="4.5"/><text class="xs" x="521" y="785.2" text-anchor="middle">33</text></g>
<g id="mc-deploy-rover"><rect class="m" x="452" y="801" width="62" height="6.5"/><text class="s" x="483" y="805.7" text-anchor="middle">Deploy Rover + Damp</text><ellipse class="ci" cx="522" cy="804" rx="7.5" ry="4.5"/><text class="xs" x="522" y="805.2" text-anchor="middle">34</text></g>
<g id="mc-ready-td"><rect class="m" x="454" y="822" width="60" height="6.5"/><text class="s" x="484" y="826.7" text-anchor="middle">Ready for Touchdown</text><ellipse class="ci" cx="522" cy="824.5" rx="7" ry="4.5"/><text class="xs" x="522" y="825.7" text-anchor="middle">35</text></g>
<g id="mc-stop-vert"><rect class="m" x="456" y="842" width="56" height="6.5"/><text class="s" x="484" y="846.7" text-anchor="middle">Stop Vert Motion</text><ellipse class="ci" cx="520.5" cy="844" rx="7.5" ry="4.5"/><text class="xs" x="520.5" y="845.2" text-anchor="middle">36</text></g>
<g id="mc-altitude-hold"><rect class="m" x="456" y="859.5" width="55" height="6.5"/><text class="s" x="483.5" y="864.2" text-anchor="middle">Altitude Hold</text><ellipse class="ci" cx="515.5" cy="862.5" rx="6.5" ry="4.5"/><text class="xs" x="515.5" y="863.7" text-anchor="middle">37</text></g>
<g id="mc-next"><ellipse class="ci" cx="511.5" cy="888" rx="8" ry="4.5"/></g>

<!-- Nav filter nodes -->
<g id="nf-idle"><rect class="n" x="693" y="127.5" width="47" height="6.5"/><text class="s nt" x="716.5" y="132.2" text-anchor="middle">IDLE</text><ellipse class="ci" cx="747" cy="131" rx="7" ry="4.5"/><text class="xs" x="747" y="132.2" text-anchor="middle">0</text></g>
<g id="nf-init-inertial"><rect class="n" x="684" y="141" width="64" height="7"/><text class="s nt" x="716" y="145.9" text-anchor="middle">Init Inertial Prop</text><ellipse class="ci" cx="755" cy="144.5" rx="7" ry="4.5"/><text class="xs" x="755" y="145.7" text-anchor="middle">1</text></g>
<g id="nf-wait-cruise-1"><rect class="n" x="684" y="159.5" width="64" height="6.5"/><text class="s nt" x="716" y="164.2" text-anchor="middle">Wait for Cruise Att</text><ellipse class="ci" cx="755" cy="162.5" rx="7" ry="4.5"/><text class="xs" x="755" y="163.7" text-anchor="middle">4</text></g>
<g id="nf-init-j2000-att"><rect class="n" x="684" y="179" width="64" height="7"/><text class="s nt" x="716" y="183.9" text-anchor="middle">Init J2000 Att</text><ellipse class="ci" cx="755" cy="182" rx="7" ry="4.5"/><text class="xs" x="755" y="183.2" text-anchor="middle">5</text></g>
<g id="nf-updating-att"><rect class="n" x="684" y="208" width="64" height="29"/><text class="s nt" x="716" y="213.5" text-anchor="middle">Updating Att</text><ellipse class="ci" cx="755" cy="212" rx="7" ry="4.5"/><text class="xs" x="755" y="213.2" text-anchor="middle">7</text></g>
<g id="nf-wait-cruise-2"><rect class="n" x="686" y="245" width="53" height="28"/><text class="s nt" x="712.5" y="250.5" text-anchor="middle">Wait for Cruise Att</text><ellipse class="ci" cx="747" cy="248.5" rx="7" ry="4.5"/><text class="xs" x="747" y="249.7" text-anchor="middle">8</text></g>
<g id="nf-set-att"><rect class="n" x="745" y="261" width="18" height="13"/><text class="xs nt" x="754" y="266.5" text-anchor="middle">Set</text><text class="xs nt" x="754" y="270.5" text-anchor="middle">Att</text><ellipse class="ci" cx="768.5" cy="259" rx="6.5" ry="4.3"/><text class="xs" x="768.5" y="260.2" text-anchor="middle">9</text></g>
<g id="nf-jump-start"><rect class="n" x="782" y="261" width="17" height="13"/><text class="xs nt" x="790.5" y="266.5" text-anchor="middle">Jump</text><text class="xs nt" x="790.5" y="270.5" text-anchor="middle">Start</text><ellipse class="ci" cx="800.5" cy="256" rx="7" ry="4.3"/><text class="xs" x="800.5" y="257.2" text-anchor="middle">10</text></g>
<g id="nf-inertial"><rect class="n" x="684" y="315" width="64" height="245"/><text class="s nt" x="716" y="320.5" text-anchor="middle">Inertial</text><ellipse class="ci" cx="755" cy="319" rx="7" ry="4.5"/><text class="xs" x="755" y="320.2" text-anchor="middle">6</text></g>
<g id="nf-wait-vel"><rect class="n" x="684" y="567" width="64" height="6.5"/><text class="s nt" x="716" y="571.7" text-anchor="middle">Wait for final Vel Est</text><ellipse class="ci" cx="755" cy="570" rx="7" ry="4.5"/><text class="xs" x="755" y="571.2" text-anchor="middle">12</text></g>
<g id="nf-wait-att"><rect class="n" x="684" y="578" width="64" height="7"/><text class="s nt" x="716" y="582.9" text-anchor="middle">Wait for final Att Est</text><ellipse class="ci" cx="755" cy="581.5" rx="7" ry="4.5"/><text class="xs" x="755" y="582.7" text-anchor="middle">13</text></g>
<g id="nf-converged"><rect class="n" x="684" y="590" width="64" height="197"/><text class="s nt" x="716" y="595.5" text-anchor="middle">Nav Filter Converged</text><ellipse class="ci" cx="755" cy="595" rx="7" ry="4.5"/><text class="xs" x="755" y="596.2" text-anchor="middle">14</text></g>
<g id="nf-initial-tds"><rect class="n" x="684" y="800" width="64" height="64"/><text class="s nt" x="716" y="805.5" text-anchor="middle">Initial TDS</text><text class="s nt" x="716" y="810.5" text-anchor="middle">Measurements</text><ellipse class="ci" cx="755" cy="805" rx="7" ry="4.5"/><text class="xs" x="755" y="806.2" text-anchor="middle">15</text></g>
</svg>
